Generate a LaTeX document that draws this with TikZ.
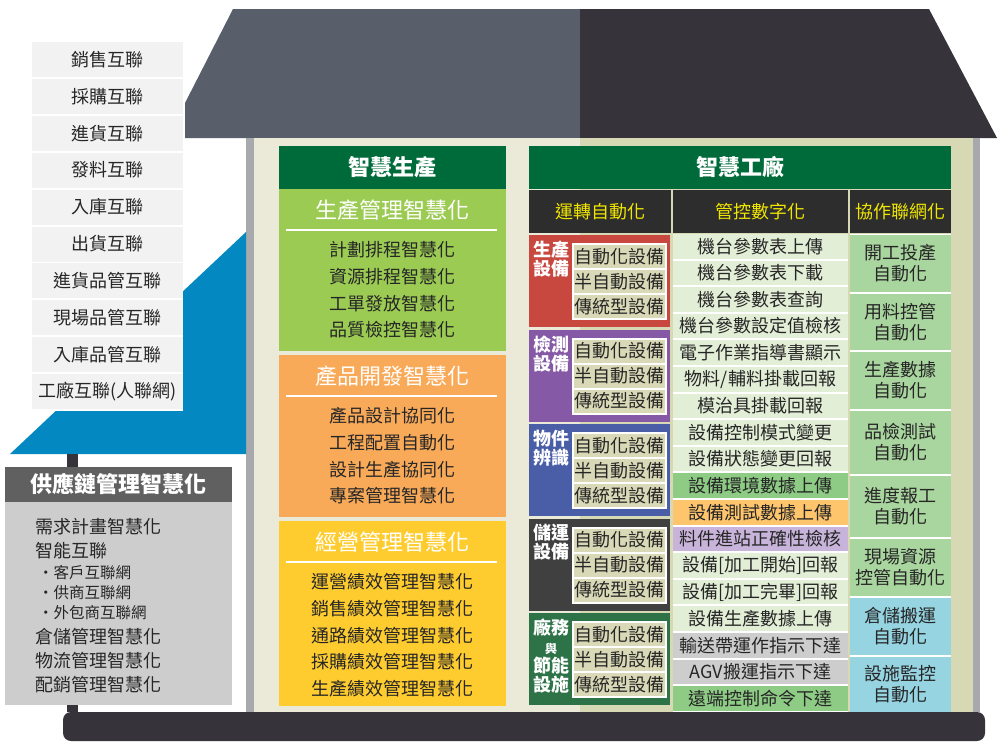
\documentclass[tikz,border=0pt]{standalone}
\usepackage{fontspec}
\setmainfont{Noto Sans CJK TC}
\definecolor{roofleft}{HTML}{585F6B}
\definecolor{roofright}{HTML}{36333B}
\definecolor{wallleft}{HTML}{EBEAD9}
\definecolor{wallright}{HTML}{D7D8B4}
\definecolor{pillar}{HTML}{A8A9AD}
\definecolor{skyblue}{HTML}{0488C1}
\definecolor{listgrey}{HTML}{F2F2F2}
\definecolor{chainhead}{HTML}{606060}
\definecolor{chainbody}{HTML}{CDCDCD}
\definecolor{deepgreen}{HTML}{006B3A}
\definecolor{prodgreen}{HTML}{9BCB53}
\definecolor{devorange}{HTML}{F9AA59}
\definecolor{bizyellow}{HTML}{FFCC2F}
\definecolor{headdark}{HTML}{2D2D2D}
\definecolor{headyellow}{HTML}{F0E600}
\definecolor{eqred}{HTML}{C8473F}
\definecolor{eqpurple}{HTML}{8559A5}
\definecolor{eqblue}{HTML}{4A5EA8}
\definecolor{eqdark}{HTML}{404040}
\definecolor{eqgreen}{HTML}{2D7347}
\definecolor{eqcell}{HTML}{D9D9B7}
\definecolor{rowlight}{HTML}{E2EED6}
\definecolor{rowgreen}{HTML}{8ECB85}
\definecolor{roworange}{HTML}{FEC56C}
\definecolor{rowpurple}{HTML}{C8B4DA}
\definecolor{rowgrey}{HTML}{CDCDCD}
\definecolor{netgreen}{HTML}{A9D59F}
\definecolor{netblue}{HTML}{96D4E2}
\definecolor{ink}{HTML}{262626}
\begin{document}
\begin{tikzpicture}[x=1pt, y=-1pt,
        every node/.style={inner sep=0pt, outer sep=0pt, text=ink, font=\fontsize{18}{21}\selectfont},
        cell/.style 2 args={minimum width=#1, minimum height=#2},
        bigtitle/.style={font=\fontsize{22}{26}\selectfont\bfseries, text=white}]
    \useasboundingbox (0,0) rectangle (1000,750);
    \fill[white] (0,0) rectangle (1000,750);
    \fill[roofleft] (233,9) -- (580,9) -- (580,138) -- (185,138) -- (185,103) -- cycle;
    \fill[roofright] (580,9) -- (929,9) -- (997,138) -- (580,138) -- cycle;
    \fill[wallleft] (254,138) rectangle (580,712);
    \fill[wallright] (580,138) rectangle (973,712);
    \fill[pillar] (246,138) rectangle (254,712);
    \fill[pillar] (973,138) rectangle (980,712);
    \fill[skyblue] (10,454) -- (246,232) -- (246,454) -- cycle;
    \fill[roofright] (67,454) rectangle (78,712);
    \fill[roofright, rounded corners=8] (63,712) rectangle (985,741);
    \fill[white] (32,42) rectangle (183,411);
    \foreach \linkname [count=\i] in {銷售互聯,採購互聯,進貨互聯,發料互聯,入庫互聯,出貨互聯,進貨品管互聯,現場品管互聯,入庫品管互聯,工廠互聯(人聯網)}
        \node[fill=listgrey, cell={151}{35}] (link-\i) at (107.5, {42+(\i-1)*36.9+17.5}) {\linkname};
    \node[fill=chainhead, cell={227}{35}, bigtitle] (chain-head) at (118.5,484.5) {供應鏈管理智慧化};
    \node[fill=chainbody, cell={227}{203}] (chain-body) at (118.5,603.5) {};
    \foreach \chainname/\ypos [count=\i] in {需求計畫智慧化/527, 智能互聯/551, 倉儲管理智慧化/637, 物流管理智慧化/661, 配銷管理智慧化/685}
        \node[anchor=west, font=\fontsize{18}{21}\selectfont] (chain-\i) at (35,\ypos) {\chainname};
    \foreach \partner [count=\i] in {客戶互聯網,供商互聯網,外包商互聯網}
        \node[anchor=west, font=\fontsize{15.5}{18}\selectfont] (partner-\i) at (38, {573+(\i-1)*20}) {・\partner};
    \node[fill=deepgreen, cell={227}{43}, bigtitle] (production) at (392.5,167.5) {智慧生產};
    \foreach \colour/\ytop/\boxh/\heading/\entries [count=\s] in {
            prodgreen/189/162/生產管理智慧化/{計劃排程智慧化,資源排程智慧化,工單發放智慧化,品質檢控智慧化},
            devorange/355/162/產品開發智慧化/{產品設計協同化,工程配置自動化,設計生產協同化,專案管理智慧化},
            bizyellow/521/185/經營管理智慧化/{運營績效管理智慧化,銷售績效管理智慧化,通路績效管理智慧化,採購績效管理智慧化,生產績效管理智慧化}} {
        \node[fill=\colour, cell={227}{\boxh}] (section-\s) at (392.5, {\ytop+\boxh/2}) {};
        \node[font=\fontsize{22}{26}\selectfont, text=white] (section-title-\s) at (392.5, {\ytop+21}) {\heading};
        \draw[white, line width=2.5pt] (286, {\ytop+41}) -- (497, {\ytop+41});
        \foreach \entry [count=\j] in \entries
            \node (section-\s-entry-\j) at (392.5, {\ytop+61+(\j-1)*26.6}) {\entry};
    }
    \node[fill=deepgreen, cell={422}{43}, bigtitle] (factory) at (740,167.5) {智慧工廠};
    \foreach \heading/\xmid/\wide [count=\c] in {運轉自動化/600/142, 管控數字化/760.5/175, 協作聯網化/900.5/101}
        \node[fill=headdark, text=headyellow, cell={\wide}{43}] (column-\c) at (\xmid, 211.5) {\heading};
    \foreach \colour/\groupname [count=\g] in {eqred/{生產\\設備}, eqpurple/{檢測\\設備}, eqblue/{物件\\辨識}, eqdark/{儲運\\設備}, eqgreen/{廠務\\{\fontsize{12}{19}\selectfont 與}\\節能\\設施}} {
        \pgfmathsetmacro\gtop{235+(\g-1)*94.5}
        \node[fill=\colour, cell={141}{92}] (group-\g) at (599.5, {\gtop+46}) {};
        \node[anchor=north, align=center, font=\fontsize{18}{19}\selectfont\bfseries, text=white] (group-label-\g) at (551, {\gtop+6}) {\groupname};
        \node[fill=white, cell={95}{77}] (group-frame-\g) at (619.5, {\gtop+46.5}) {};
        \foreach \device [count=\d] in {自動化設備,半自動設備,傳統型設備}
            \node[fill=eqcell, cell={91}{23}] (group-\g-device-\d) at (619.5, {\gtop+21.5+(\d-1)*25}) {\device};
    }
    \fill[white] (673,234) rectangle (848,712);
    \foreach \entry/\colour [count=\r] in {機台參數表上傳/rowlight, 機台參數表下載/rowlight, 機台參數表查詢/rowlight, 機台參數設定值檢核/rowlight, 電子作業指導書顯示/rowlight, {物料/輔料掛載回報}/rowlight, 模治具掛載回報/rowlight, 設備控制模式變更/rowlight, 設備狀態變更回報/rowlight, 設備環境數據上傳/rowgreen, 設備測試數據上傳/roworange, 料件進站正確性檢核/rowpurple, 設備[加工開始]回報/rowlight, 設備[加工完畢]回報/rowlight, 設備生產數據上傳/rowlight, 輸送帶運作指示下達/rowgrey, AGV搬運指示下達/rowgrey, 遠端控制命令下達/rowgreen}
        \node[fill=\colour, cell={175}{24.6}] (task-\r) at (760.5, {234+12.3+(\r-1)*26.6}) {\entry};
    \fill[white] (850,234) rectangle (951,712);
    \foreach \entry/\ytop/\ybot/\colour [count=\n] in {開工投產\\自動化/235/292/netgreen, 用料控管\\自動化/294/350/netgreen, 生產數據\\自動化/352/409/netgreen, 品檢測試\\自動化/411/474/netgreen, 進度報工\\自動化/476/537/netgreen, 現場資源\\控管自動化/539/596/netgreen, 倉儲搬運\\自動化/598/655/netblue, 設施監控\\自動化/657/712/netblue}
        \node[fill=\colour, cell={101}{\ybot-\ytop}, align=center] (network-\n) at (900.5, {(\ytop+\ybot)/2}) {\entry};
\end{tikzpicture}
\end{document}
